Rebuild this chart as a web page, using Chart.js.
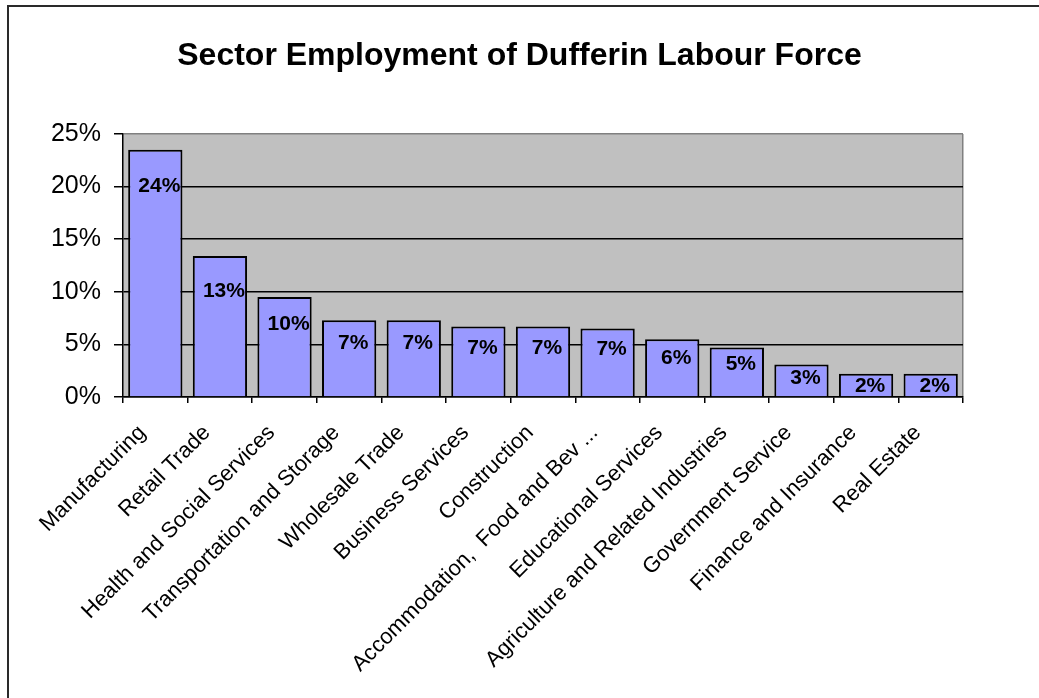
<!DOCTYPE html>
<html>
<head>
<meta charset="utf-8">
<title>Sector Employment of Dufferin Labour Force</title>
<script src="https://cdn.jsdelivr.net/npm/chart.js@4.4.1/dist/chart.umd.min.js"></script>
<style>
  html, body { margin: 0; padding: 0; background: #fff; overflow: hidden; }
  #wrap { position: relative; width: 1039px; height: 698px; }
  #frame { position: absolute; left: 7px; top: 5px; width: 1100px; height: 800px; border: 2px solid #2a2a2a; }
  #sectorChart { position: absolute; left: 0; top: 0; }
</style>
</head>
<body>
<div id="wrap">
  <div id="frame"></div>
  <canvas id="sectorChart" width="1039" height="698"></canvas>
</div>
<script>
// Share of the Dufferin labour force employed in each sector (%)
const sectors = [
  'Manufacturing',
  'Retail Trade',
  'Health and Social Services',
  'Transportation and Storage',
  'Wholesale Trade',
  'Business Services',
  'Construction',
  'Accommodation,  Food and Bev ...',
  'Educational Services',
  'Agriculture and Related Industries',
  'Government Service',
  'Finance and Insurance',
  'Real Estate'
];
const shares = [23.5, 13.4, 9.5, 7.3, 7.3, 6.7, 6.7, 6.5, 5.5, 4.7, 3.1, 2.2, 2.2];
const yTicks = [0, 5, 10, 15, 20, 25];
const chartTitle = 'Sector Employment of Dufferin Labour Force';

const FONT = "'Liberation Sans', Arial, sans-serif";

// title centred across the whole canvas, not just the plot
const titleText = {
  id: 'titleText',
  afterDraw(chart) {
    const ctx = chart.ctx;
    ctx.save();
    ctx.font = 'bold 32px ' + FONT;
    ctx.fillStyle = '#000';
    ctx.textAlign = 'center';
    ctx.textBaseline = 'middle';
    ctx.fillText(chartTitle, chart.width / 2, 56);
    ctx.restore();
  }
};

// writes the rounded percentage inside the top of each bar
const barLabels = {
  id: 'barLabels',
  afterDatasetsDraw(chart) {
    const ctx = chart.ctx;
    const meta = chart.getDatasetMeta(0);
    ctx.save();
    ctx.font = 'bold 21px ' + FONT;
    ctx.fillStyle = '#000';
    ctx.textAlign = 'center';
    ctx.textBaseline = 'middle';
    meta.data.forEach(function(bar, i) {
      const h = bar.base - bar.y;
      const drop = Math.min(36, 12 + 0.2 * Math.max(0, h - 23));
      ctx.fillText(Math.round(shares[i]) + '%', bar.x + 4, bar.y + drop);
    });
    ctx.restore();
  }
};

// grey plot background
const plotBackground = {
  id: 'plotBackground',
  beforeDraw(chart) {
    const a = chart.chartArea;
    const ctx = chart.ctx;
    ctx.save();
    ctx.fillStyle = '#C0C0C0';
    ctx.fillRect(a.left, a.top, a.right - a.left, a.bottom - a.top);
    ctx.restore();
  }
};

const config = {
  type: 'bar',
  data: {
    labels: sectors,
    datasets: [{
      data: shares,
      backgroundColor: '#9999FF',
      borderColor: '#000',
      borderWidth: 2,
      borderSkipped: 'bottom',
      barPercentage: 0.84,
      categoryPercentage: 1
    }]
  },
  options: {
    responsive: false,
    animation: false,
    layout: { padding: { left: 0, right: 76, top: 134, bottom: 0 } },
    scales: {
      x: {
        offset: true,
        border: { display: true, color: '#000', width: 1.5 },
        grid: {
          offset: true,
          drawOnChartArea: true,
          tickLength: 6,
          tickColor: '#000',
          lineWidth: 1.5,
          color: function(c) { return c.type === 'scale' ? '#808080' : 'rgba(0,0,0,0)'; }
        },
        ticks: {
          autoSkip: false,
          maxRotation: 45,
          minRotation: 45,
          padding: 17,
          labelOffset: -13,
          color: '#000',
          font: { family: FONT, size: 22 }
        },
        afterFit(scale) { scale.height = 301; }
      },
      y: {
        min: 0,
        max: 25,
        border: { display: true, color: '#000', width: 1.5 },
        grid: {
          tickLength: 9,
          tickColor: '#000',
          lineWidth: 1.5,
          color: function(c) { return c.tick && c.tick.value === 25 ? '#808080' : '#000'; }
        },
        afterBuildTicks(scale) { scale.ticks = yTicks.map(v => ({ value: v })); },
        ticks: {
          padding: 13,
          color: '#000',
          font: { family: FONT, size: 25 },
          callback: v => v + '%'
        },
        afterFit(scale) { scale.width = 123; }
      }
    },
    plugins: {
      legend: { display: false },
      tooltip: { enabled: false },
      title: { display: false }
    }
  },
  plugins: [plotBackground, barLabels, titleText]
};

new Chart(document.getElementById('sectorChart').getContext('2d'), config);
</script>
</body>
</html>
